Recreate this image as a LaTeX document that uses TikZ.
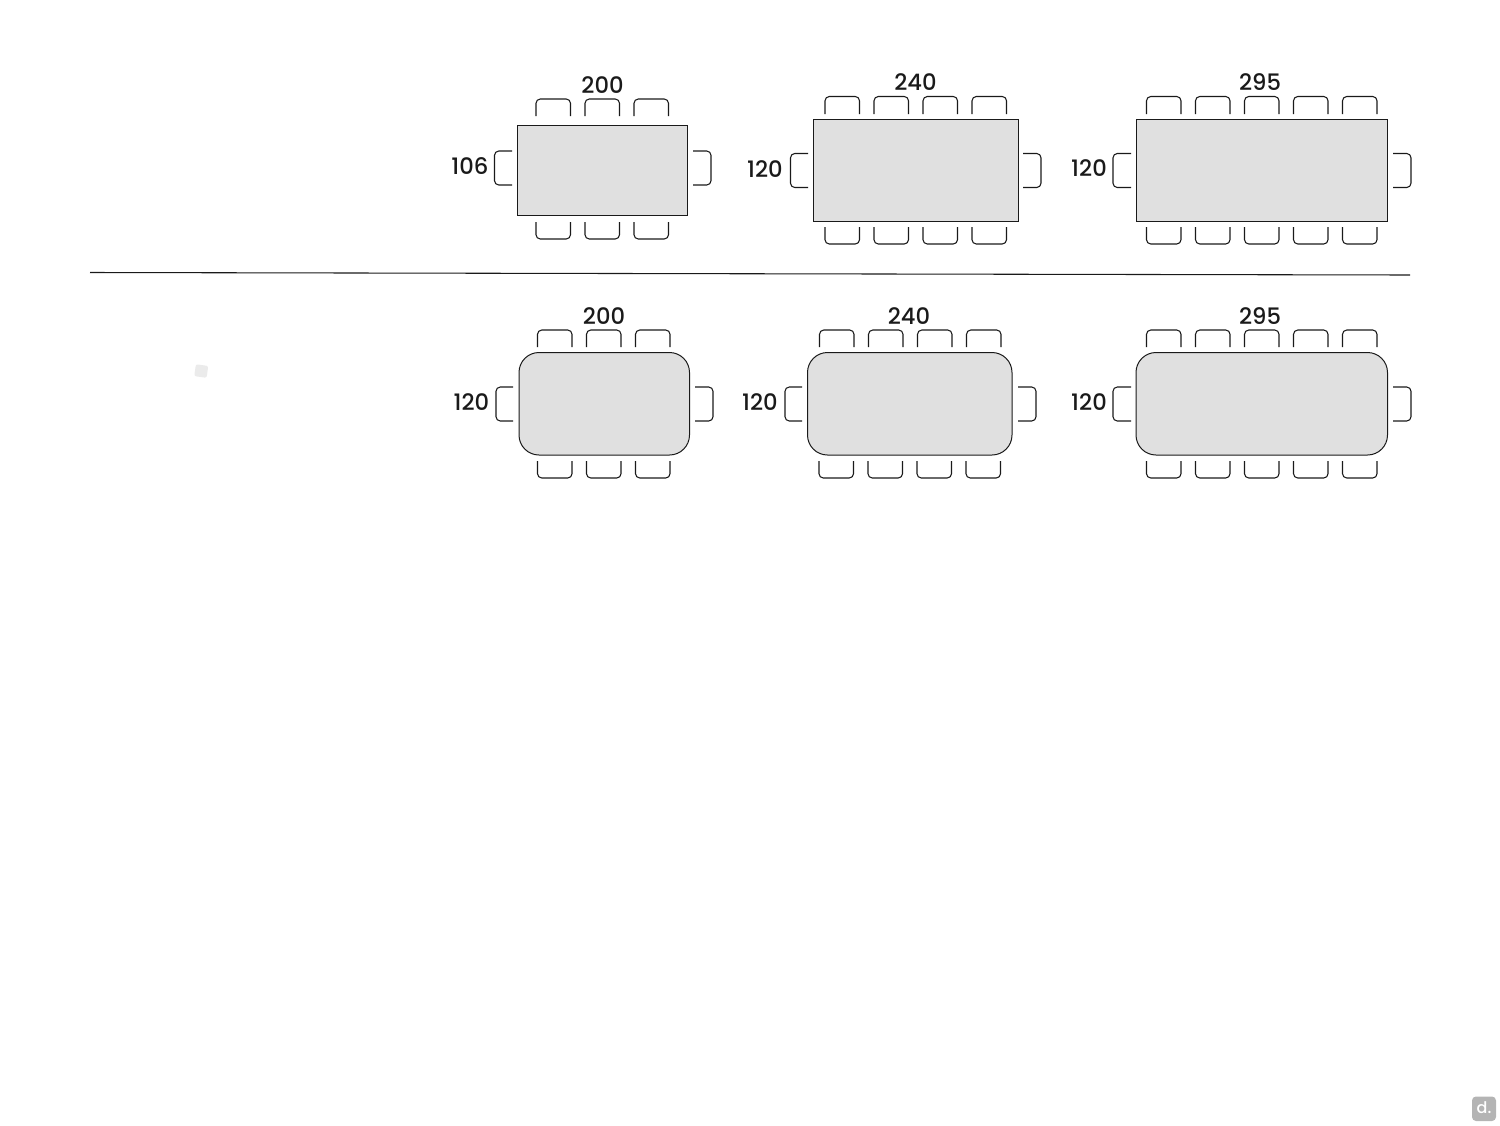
\documentclass[tikz,border=0pt]{standalone}
\usepackage{fontspec}
\setmainfont{Poppins Medium}
\definecolor{tabfill}{HTML}{E0E0E0}
\definecolor{ink}{HTML}{1A1A1A}
\definecolor{badge}{HTML}{B4B4B4}
\tikzset{
  chair/.style={draw=ink,line width=0.8pt,rounded corners=3.2pt},
  tablerect/.style={draw=ink,line width=0.75pt,fill=tabfill},
  tableround/.style={tablerect,rounded corners=15pt},
  dimlabel/.style={text=ink,font=\fontsize{17}{18}\selectfont,inner sep=0pt,anchor=center},
  rule/.style={draw=ink,line width=0.8pt}
}
% horizontal chairs: x left, open side y, closed side y
\newcommand{\hchair}[3]{\draw[chair] (#1,#2) -- (#1,#3) -- ({#1+34.5},#3) -- ({#1+34.5},#2);}
% vertical chairs: open side x, closed side x, y top
\newcommand{\vchair}[3]{\draw[chair] (#1,#3) -- (#2,#3) -- (#2,{#3+34}) -- (#1,{#3+34});}
\begin{document}
\begin{tikzpicture}[x=0.75pt,y=-0.75pt]
\useasboundingbox (0,0) rectangle (1500,1125);
% Row 1
\draw[tablerect] (517,125) rectangle (687.5,215.5);
\foreach \x in {536,585,634} {\hchair{\x}{116}{99}\hchair{\x}{222}{239}}
\vchair{512}{494.5}{151}\vchair{693}{711}{151}
\node[dimlabel] (a1) at (602.5,85) {200};
\node[dimlabel] (a2) at (470,166) {106};

\draw[tablerect] (813.5,119) rectangle (1018,221);
\foreach \x in {825,874,923,972} {\hchair{\x}{114}{96.5}\hchair{\x}{227}{244}}
\vchair{808}{790.5}{153.5}\vchair{1023}{1041}{153.5}
\node[dimlabel] (b1) at (915.5,82) {240};
\node[dimlabel] (b2) at (765,169) {120};

\draw[tablerect] (1136,119) rectangle (1387.5,221);
\foreach \x in {1146.5,1195.5,1244.5,1293.5,1342.5} {\hchair{\x}{114}{96.5}\hchair{\x}{227}{244}}
\vchair{1131}{1113}{153.5}\vchair{1393}{1411}{153.5}
\node[dimlabel] (c1) at (1260,82) {295};
\node[dimlabel] (c2) at (1089,168) {120};
% Divider
\coordinate (ruleL) at (90,272.5);
\coordinate (ruleR) at (1410,275);
\draw[rule] (ruleL) -- (ruleR);
% Row 2
\draw[tableround] (519,352.5) rectangle (689.5,455);
\foreach \x in {537.5,586.5,635.5} {\hchair{\x}{347}{330}\hchair{\x}{461}{478}}
\vchair{513}{496}{387}\vchair{695}{713}{387}
\node[dimlabel] (d1) at (604,316) {200};
\node[dimlabel] (d2) at (471.5,402.5) {120};

\draw[tableround] (807.5,352.5) rectangle (1012,455);
\foreach \x in {819.5,868.5,917.5,966.5} {\hchair{\x}{347}{330}}
\foreach \x in {819,868,917,966} {\hchair{\x}{461}{478}}
\vchair{802}{785}{387}\vchair{1018}{1036}{387}
\node[dimlabel] (e1) at (909,316) {240};
\node[dimlabel] (e2) at (760,402.5) {120};

\draw[tableround] (1136,352.5) rectangle (1387.5,455);
\foreach \x in {1146.5,1195.5,1244.5,1293.5,1342.5} {\hchair{\x}{347}{330}\hchair{\x}{461}{478}}
\vchair{1131}{1113}{387}\vchair{1393}{1411}{387}
\node[dimlabel] (f1) at (1260,316) {295};
\node[dimlabel] (f2) at (1089,402) {120};
% Faint mark and badge
\fill[fill=black!8,rounded corners=1.5pt,rotate around={-8:(201,371)}] (195,365) rectangle (207.5,377);
\fill[badge,rounded corners=3pt] (1472,1096.5) rectangle (1496,1121);
\node[text=white,inner sep=0pt,font=\fontsize{12}{12}\selectfont] (badgetext) at (1484,1108) {d.};
\end{tikzpicture}
\end{document}
